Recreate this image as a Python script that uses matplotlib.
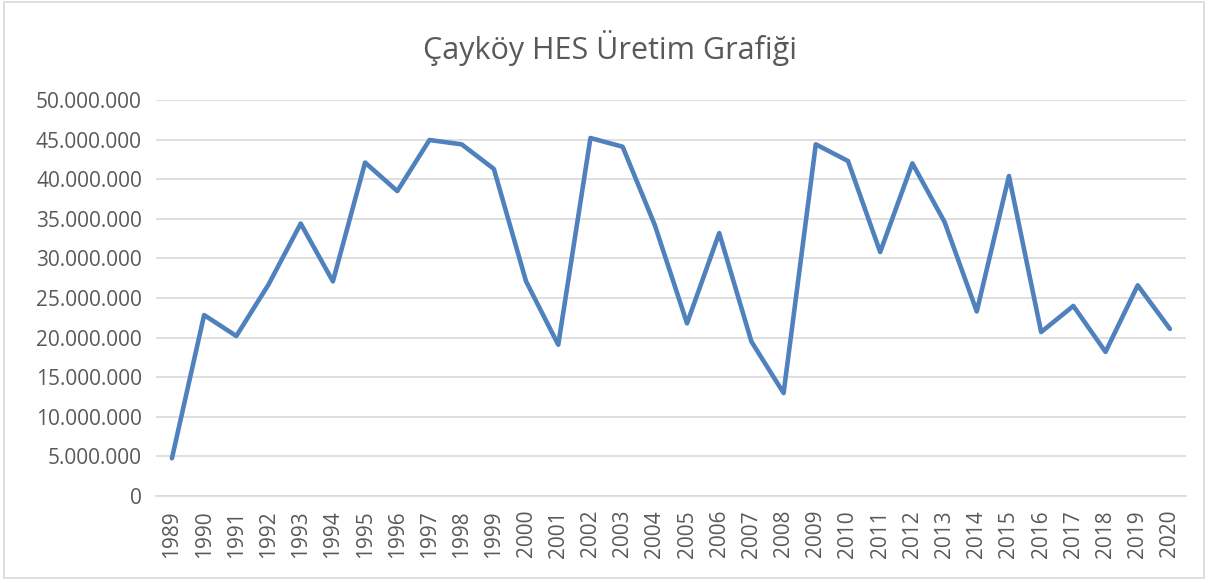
import matplotlib.pyplot as plt
from matplotlib.patches import Rectangle
from matplotlib.ticker import FuncFormatter

# Yearly production values
years = [str(y) for y in range(1989, 2021)]
uretim = [4.76e6, 22.85e6, 20.2e6, 26.7e6, 34.4e6, 27.1e6, 42.1e6, 38.5e6,
          44.95e6, 44.4e6, 41.3e6, 27.1e6, 19.1e6, 45.2e6, 44.1e6, 34.2e6,
          21.8e6, 33.2e6, 19.5e6, 13.0e6, 44.4e6, 42.3e6, 30.8e6, 42.0e6,
          34.6e6, 23.3e6, 40.4e6, 20.7e6, 24.0e6, 18.2e6, 26.6e6, 21.1e6]
y_ticks = list(range(0, 50000001, 5000000))

plt.rcParams['font.family'] = ['Open Sans', 'DejaVu Sans']

fig = plt.figure(figsize=(12.08, 5.8), dpi=100)
ax = fig.add_axes([0.129, 0.1448, 0.8528, 0.6828])

# Chart border
fig.patches.append(Rectangle((0.003, 0.004), 0.994, 0.992, transform=fig.transFigure,
                             fill=False, edgecolor='#d9d9d9', linewidth=1.2))

x = list(range(len(years)))
ax.plot(x, uretim, color='#4f81bd', linewidth=3.3, solid_joinstyle='round',
        solid_capstyle='round', zorder=3)

ax.set_xlim(-0.5, len(years) - 0.5)
ax.set_ylim(0, 50000000)
ax.set_yticks(y_ticks)
ax.yaxis.set_major_formatter(FuncFormatter(lambda v, p: f"{int(v):,}".replace(",", ".")))
ax.set_xticks(x)
ax.set_xticklabels(years, rotation=90)

ax.grid(axis='y', color='#d9d9d9', linewidth=1.2)
ax.set_axisbelow(True)
for s in ['top', 'right', 'left']:
    ax.spines[s].set_visible(False)
ax.spines['bottom'].set_color('#d9d9d9')
ax.spines['bottom'].set_linewidth(1.2)

ax.tick_params(axis='y', length=0, pad=10, labelsize=15, labelcolor='#595959')
ax.tick_params(axis='x', length=0, pad=10, labelsize=15, labelcolor='#595959')

fig.text(0.505, 0.918, "Çayköy HES Üretim Grafiği", ha='center', va='center',
         fontsize=22, color='#595959')

fig.savefig("out.png", dpi=100)
